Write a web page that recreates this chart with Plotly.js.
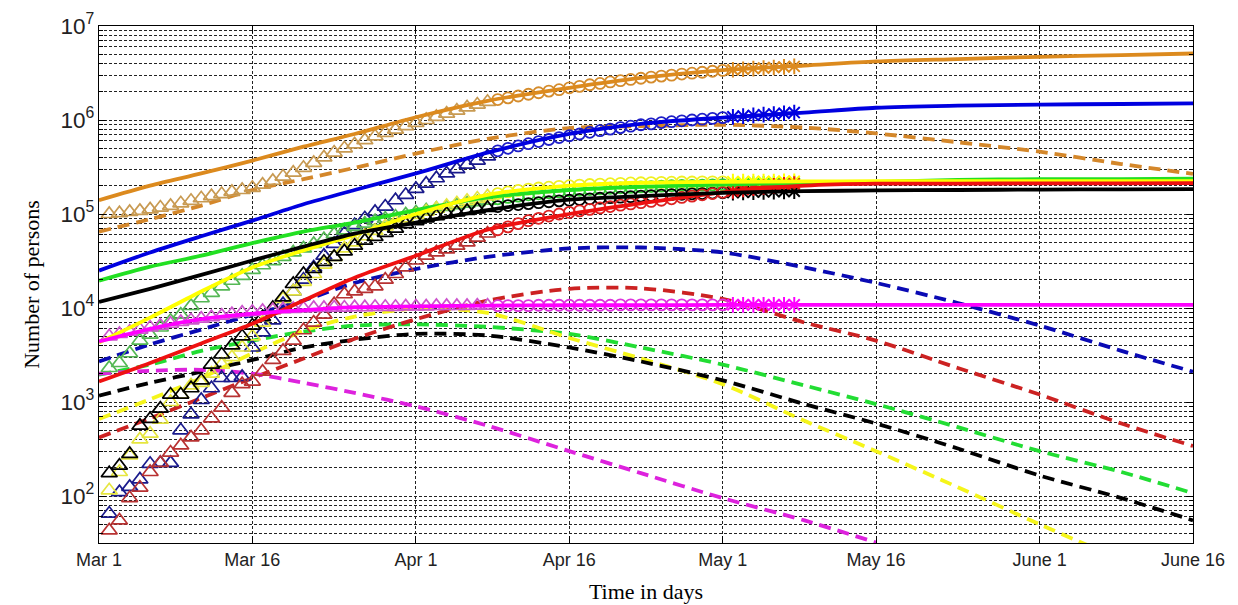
<!DOCTYPE html>
<html>
<head>
<meta charset="utf-8">
<script src="https://cdn.plot.ly/plotly-3.0.1.min.js"></script>
<style>html,body{margin:0;padding:0;background:#fff;}#chart{width:1238px;height:605px;}</style>
</head>
<body>
<div id="chart"></div>
<script>
// ---- axis ticks ----
const tickDays = [0, 15, 31, 46, 61, 76, 92, 107];
const tickLabels = ['Mar 1', 'Mar 16', 'Apr 1', 'Apr 16', 'May 1', 'May 16', 'June 1', 'June 16'];

// ---- model curves (sampled days since Mar 1) ----
const modelDays = [0, 5, 10, 15, 20, 25, 31, 38, 46, 53, 61, 69, 76, 84, 92, 100, 107];
const orangeTotal  = [1.4e5, 2.0e5, 2.7e5, 3.7e5, 5.2e5, 7.1e5, 1.07e6, 1.6e6, 2.2e6, 2.8e6, 3.4e6, 3.8e6, 4.2e6, 4.45e6, 4.7e6, 4.9e6, 5.1e6];
const orangeActive = [6.5e4, 8.8e4, 1.23e5, 1.8e5, 2.35e5, 3.1e5, 4.4e5, 6.3e5, 8.2e5, 8.6e5, 8.9e5, 8.3e5, 7.2e5, 5.8e5, 4.6e5, 3.4e5, 2.67e5];
const blueTotal    = [2.5e4, 3.9e4, 5.8e4, 8.5e4, 1.27e5, 1.8e5, 2.7e5, 4.5e5, 7.1e5, 9.1e5, 1.06e6, 1.2e6, 1.35e6, 1.42e6, 1.46e6, 1.48e6, 1.5e6];
const blueActive   = [2.7e3, 4.1e3, 5.9e3, 8.5e3, 1.2e4, 1.85e4, 2.6e4, 3.5e4, 4.3e4, 4.4e4, 3.9e4, 2.7e4, 1.85e4, 1.13e4, 6.5e3, 3.5e3, 2.1e3];
const greenTotal   = [1.95e4, 2.75e4, 3.6e4, 4.9e4, 6.5e4, 8.1e4, 1.1e5, 1.5e5, 1.8e5, 1.95e5, 2.05e5, 2.15e5, 2.2e5, 2.3e5, 2.35e5, 2.35e5, 2.37e5];
const greenActive  = [1.95e3, 2.5e3, 3.5e3, 4.5e3, 5.6e3, 6.5e3, 6.7e3, 6.3e3, 5.3e3, 3.8e3, 2.5e3, 1.5e3, 950, 540, 300, 180, 107];
const yellowTotal  = [4.3e3, 7.9e3, 1.5e4, 2.7e4, 4.1e4, 6.0e4, 1.0e5, 1.6e5, 2.0e5, 2.15e5, 2.2e5, 2.22e5, 2.23e5, 2.23e5, 2.23e5, 2.23e5, 2.23e5];
const yellowActiveDays = [0, 5, 10, 15, 20, 25, 31, 38, 46, 53, 61, 69, 76, 84, 92, 97];
const yellowActive = [660, 1.07e3, 1.8e3, 3.3e3, 5.7e3, 8.1e3, 9.8e3, 8.9e3, 4.8e3, 2.9e3, 1.55e3, 630, 300, 124, 50, 29];
const blackTotal   = [1.16e4, 1.6e4, 2.25e4, 3.2e4, 4.5e4, 6.2e4, 8.1e4, 1.1e5, 1.42e5, 1.55e5, 1.68e5, 1.75e5, 1.78e5, 1.8e5, 1.82e5, 1.83e5, 1.84e5];
const blackActive  = [1.17e3, 1.6e3, 2.1e3, 2.8e3, 3.8e3, 4.6e3, 5.3e3, 5.1e3, 3.8e3, 2.7e3, 1.7e3, 950, 590, 320, 165, 95, 55];
const redTotal     = [1.65e3, 2.6e3, 4.2e3, 6.8e3, 1.2e4, 2.1e4, 3.6e4, 6.8e4, 1.0e5, 1.3e5, 1.7e5, 2.0e5, 2.1e5, 2.1e5, 2.12e5, 2.12e5, 2.13e5];
const redActive    = [420, 670, 1.1e3, 1.8e3, 2.9e3, 4.7e3, 7.6e3, 1.2e4, 1.6e4, 1.62e4, 1.25e4, 7.0e3, 4.5e3, 2.3e3, 1.2e3, 590, 340];
const magentaTotal = [4.4e3, 6.0e3, 7.6e3, 8.7e3, 9.5e3, 1.02e4, 1.04e4, 1.06e4, 1.07e4, 1.07e4, 1.08e4, 1.08e4, 1.08e4, 1.08e4, 1.08e4, 1.08e4, 1.08e4];
const magentaActiveDays = [0, 5, 10, 15, 20, 25, 31, 38, 46, 53, 61, 69, 76];
const magentaActive = [2.0e3, 2.15e3, 2.2e3, 2.0e3, 1.6e3, 1.25e3, 900, 560, 300, 175, 95, 55, 32];

// ---- reported data (days 1..68): 38 triangles, 23 circles, 7 stars ----
const dataDays = [1,2,3,4,5,6,7,8,9,10,11,12,13,14,15,16,17,18,19,20,21,22,23,24,25,26,27,28,29,30,31,32,33,34,35,36,37,38,
  39,40,41,42,43,44,45,46,47,48,49,50,51,52,53,54,55,56,57,58,59,60,61,62,63,64,65,66,67,68];
const orangeData = [1.0e5,1.02e5,1.05e5,1.08e5,1.12e5,1.17e5,1.22e5,1.3e5,1.38e5,1.47e5,
  1.55e5,1.63e5,1.72e5,1.8e5,1.9e5,2.05e5,2.25e5,2.5e5,2.75e5,3.1e5,
  3.5e5,4.0e5,4.5e5,5.0e5,5.5e5,6.1e5,6.7e5,7.3e5,7.9e5,8.6e5,
  9.3e5,1.0e6,1.08e6,1.17e6,1.26e6,1.36e6,1.46e6,1.56e6,
  1.65e6,1.72e6,1.8e6,1.88e6,1.95e6,2.03e6,2.1e6,2.2e6,2.28e6,2.37e6,2.45e6,2.54e6,2.62e6,2.7e6,2.78e6,2.86e6,2.93e6,3.0e6,3.08e6,3.15e6,3.22e6,3.3e6,3.37e6,
  3.42e6,3.47e6,3.52e6,3.57e6,3.62e6,3.67e6,3.72e6];
const blueData = [65,110,125,150,220,225,225,500,740,1050,
  1400,1800,1800,1850,3800,5500,7400,1.1e4,1.5e4,2.0e4,
  2.7e4,3.6e4,4.8e4,6.2e4,7.6e4,9.0e4,1.05e5,1.2e5,1.4e5,1.6e5,
  1.85e5,2.1e5,2.4e5,2.7e5,3.0e5,3.35e5,3.7e5,4.1e5,
  4.7e5,5.0e5,5.3e5,5.6e5,5.9e5,6.2e5,6.5e5,6.8e5,7.1e5,7.4e5,7.7e5,8.0e5,8.3e5,8.6e5,8.9e5,9.1e5,9.4e5,9.6e5,9.8e5,1.0e6,1.02e6,1.04e6,1.06e6,
  1.08e6,1.1e6,1.12e6,1.14e6,1.16e6,1.18e6,1.2e6];
const greenData = [2.3e3,2.6e3,3.3e3,4.5e3,5.2e3,6.2e3,7.3e3,8.5e3,1.05e4,1.27e4,
  1.45e4,1.7e4,1.95e4,2.2e4,2.55e4,2.85e4,3.15e4,3.5e4,3.9e4,4.3e4,
  4.8e4,5.4e4,6.1e4,6.7e4,7.3e4,7.9e4,8.4e4,8.9e4,9.4e4,9.9e4,
  1.04e5,1.09e5,1.14e5,1.19e5,1.24e5,1.29e5,1.34e5,1.39e5,
  1.45e5,1.5e5,1.55e5,1.6e5,1.64e5,1.68e5,1.72e5,1.76e5,1.79e5,1.82e5,1.85e5,1.88e5,1.9e5,1.92e5,1.94e5,1.96e5,1.98e5,2.0e5,2.01e5,2.02e5,2.03e5,2.04e5,2.05e5,
  2.06e5,2.07e5,2.08e5,2.09e5,2.1e5,2.11e5,2.12e5];
const yellowData = [115,180,270,400,460,650,1.0e3,1.2e3,1.5e3,1.6e3,
  2.0e3,2.5e3,3.0e3,3.8e3,5.0e3,7.0e3,9.5e3,1.25e4,1.5e4,1.9e4,
  2.3e4,2.9e4,3.5e4,4.3e4,5.0e4,5.8e4,6.6e4,7.4e4,8.2e4,9.0e4,
  9.8e4,1.06e5,1.14e5,1.22e5,1.3e5,1.38e5,1.46e5,1.54e5,
  1.65e5,1.72e5,1.78e5,1.84e5,1.89e5,1.93e5,1.97e5,2.0e5,2.03e5,2.06e5,2.08e5,2.1e5,2.12e5,2.14e5,2.15e5,2.16e5,2.17e5,2.18e5,2.19e5,2.19e5,2.2e5,2.2e5,2.2e5,
  2.21e5,2.21e5,2.22e5,2.22e5,2.22e5,2.23e5,2.23e5];
const blackData = [175,210,280,560,660,850,1.2e3,1.2e3,1.4e3,1.7e3,
  2.5e3,3.2e3,4.0e3,5.0e3,6.5e3,8.0e3,1.0e4,1.3e4,1.8e4,2.3e4,
  2.6e4,3.1e4,3.5e4,4.0e4,4.6e4,5.2e4,5.7e4,6.3e4,7.0e4,7.8e4,
  8.4e4,9.0e4,9.5e4,1.0e5,1.04e5,1.08e5,1.12e5,1.16e5,
  1.2e5,1.23e5,1.26e5,1.29e5,1.32e5,1.35e5,1.38e5,1.4e5,1.43e5,1.45e5,1.47e5,1.49e5,1.51e5,1.53e5,1.55e5,1.57e5,1.59e5,1.61e5,1.62e5,1.64e5,1.65e5,1.67e5,1.68e5,
  1.69e5,1.7e5,1.71e5,1.72e5,1.73e5,1.74e5,1.75e5];
const redData = [43,55,95,123,180,225,290,345,420,500,
  670,870,1.25e3,1.55e3,1.65e3,2.1e3,2.8e3,3.5e3,4.5e3,5.8e3,
  7.0e3,8.5e3,1.1e4,1.4e4,1.5e4,1.6e4,1.7e4,2.0e4,2.3e4,2.7e4,
  3.2e4,3.6e4,3.9e4,4.2e4,4.6e4,5.0e4,5.6e4,6.2e4,
  6.8e4,7.3e4,7.9e4,8.5e4,9.0e4,9.5e4,1.0e5,1.04e5,1.08e5,1.12e5,1.16e5,1.2e5,1.24e5,1.28e5,1.32e5,1.36e5,1.4e5,1.45e5,1.5e5,1.55e5,1.6e5,1.65e5,1.7e5,
  1.76e5,1.82e5,1.88e5,1.94e5,1.99e5,2.04e5,2.08e5];
const magentaData = [5.0e3,5.3e3,5.6e3,5.9e3,6.2e3,6.5e3,6.8e3,7.1e3,7.4e3,7.7e3,
  8.0e3,8.3e3,8.6e3,8.9e3,9.1e3,9.3e3,9.5e3,9.7e3,9.8e3,9.9e3,
  1.0e4,1.0e4,1.01e4,1.01e4,1.02e4,1.02e4,1.03e4,1.03e4,1.03e4,1.04e4,
  1.04e4,1.04e4,1.05e4,1.05e4,1.05e4,1.05e4,1.06e4,1.06e4,
  1.06e4,1.06e4,1.06e4,1.06e4,1.07e4,1.07e4,1.07e4,1.07e4,1.07e4,1.07e4,1.07e4,1.07e4,1.08e4,1.08e4,1.08e4,1.08e4,1.08e4,1.08e4,1.08e4,1.08e4,1.08e4,1.08e4,1.08e4,
  1.08e4,1.08e4,1.08e4,1.08e4,1.08e4,1.08e4,1.08e4];

// ---- styles ----
const series = [
  {name:'orange',  total:orangeTotal,  active:orangeActive,  activeDays:modelDays, data:orangeData,
   cSolid:'#DC8A1E', cDash:'#D4872A', cTri:'#C89A52', cCirc:'#D58C2C', cStar:'#DC8A1E'},
  {name:'blue',    total:blueTotal,    active:blueActive,    activeDays:modelDays, data:blueData,
   cSolid:'#0000E0', cDash:'#0A0AB4', cTri:'#1A1A8C', cCirc:'#1E1EC8', cStar:'#0000E0'},
  {name:'green',   total:greenTotal,   active:greenActive,   activeDays:modelDays, data:greenData,
   cSolid:'#22E022', cDash:'#22DD33', cTri:'#55B855', cCirc:'#33CC33', cStar:'#22E022'},
  {name:'yellow',  total:yellowTotal,  active:yellowActive,  activeDays:yellowActiveDays, data:yellowData,
   cSolid:'#FFFF00', cDash:'#F5F51A', cTri:'#E6E640', cCirc:'#F0F020', cStar:'#FFFF00'},
  {name:'black',   total:blackTotal,   active:blackActive,   activeDays:modelDays, data:blackData,
   cSolid:'#000000', cDash:'#000000', cTri:'#000000', cCirc:'#000000', cStar:'#000000'},
  {name:'red',     total:redTotal,     active:redActive,     activeDays:modelDays, data:redData,
   cSolid:'#EE1111', cDash:'#CC2222', cTri:'#B83232', cCirc:'#DD2222', cStar:'#EE1111'},
  {name:'magenta', total:magentaTotal, active:magentaActive, activeDays:magentaActiveDays, data:magentaData,
   cSolid:'#FF00FF', cDash:'#DD22DD', cTri:'#CC55CC', cCirc:'#DD33DD', cStar:'#FF00FF'}
];

const traces = [];
// dashed (active) curves
series.forEach(s => traces.push({
  x: s.activeDays, y: s.active, type:'scatter', mode:'lines',
  line:{color:s.cDash, width:3.8, dash:'12px,7px', shape:'spline', smoothing:0.8},
  hoverinfo:'skip'
}));
// data markers
series.forEach(s => {
  traces.push({x: dataDays.slice(0,38), y: s.data.slice(0,38), type:'scatter', mode:'markers',
    marker:{symbol:'triangle-up-open', size:14, color:s.cTri, line:{width:1.7, color:s.cTri}}, hoverinfo:'skip'});
  traces.push({x: dataDays.slice(38,61), y: s.data.slice(38,61), type:'scatter', mode:'markers',
    marker:{symbol:'circle-open', size:11, color:s.cCirc, line:{width:1.8, color:s.cCirc}}, hoverinfo:'skip'});
  traces.push({x: dataDays.slice(61), y: s.data.slice(61), type:'scatter', mode:'markers',
    marker:{symbol:'asterisk-open', size:13, color:s.cStar, line:{width:2, color:s.cStar}}, hoverinfo:'skip'});
});
// solid (total) curves
['green','yellow','red','black','magenta','blue','orange'].forEach(n => {
  const s = series.find(q => q.name === n);
  traces.push({x: modelDays, y: s.total, type:'scatter', mode:'lines',
    line:{color:s.cSolid, width:3.8, shape:'spline', smoothing:0.8}, hoverinfo:'skip'});
});

const gridDash = '3px,2px';
const layout = {
  width:1238, height:605,
  margin:{l:99, r:45, t:26, b:62},
  paper_bgcolor:'#fff', plot_bgcolor:'#fff',
  showlegend:false, hovermode:false,
  xaxis:{
    range:[0,107], tickvals:tickDays, ticktext:tickLabels,
    showgrid:true, gridcolor:'#222', gridwidth:1, griddash:gridDash,
    ticks:'inside', ticklen:7, tickcolor:'#000',
    showline:true, mirror:'ticks', linecolor:'#000', linewidth:1.2, zeroline:false,
    tickfont:{family:'Liberation Sans, Arial, sans-serif', size:18, color:'#222'},
    title:{text:'Time in days', font:{family:'Liberation Serif, Times New Roman, serif', size:22, color:'#000'}, standoff:14}
  },
  yaxis:{
    type:'log', range:[1.5,7], dtick:1, exponentformat:'power',
    showgrid:true, gridcolor:'#222', gridwidth:1, griddash:gridDash,
    ticks:'inside', ticklen:7, tickcolor:'#000',
    showline:true, mirror:'ticks', linecolor:'#000', linewidth:1.2, zeroline:false,
    tickfont:{family:'Liberation Sans, Arial, sans-serif', size:18, color:'#222'},
    minor:{dtick:'D1', showgrid:true, gridcolor:'#222', gridwidth:1, griddash:gridDash, ticks:'inside', ticklen:4, tickcolor:'#000'},
    title:{text:'Number of persons', font:{family:'Liberation Serif, Times New Roman, serif', size:22, color:'#000'}, standoff:14}
  }
};

Plotly.newPlot('chart', traces, layout, {staticPlot:true, displayModeBar:false});
</script>
</body>
</html>
